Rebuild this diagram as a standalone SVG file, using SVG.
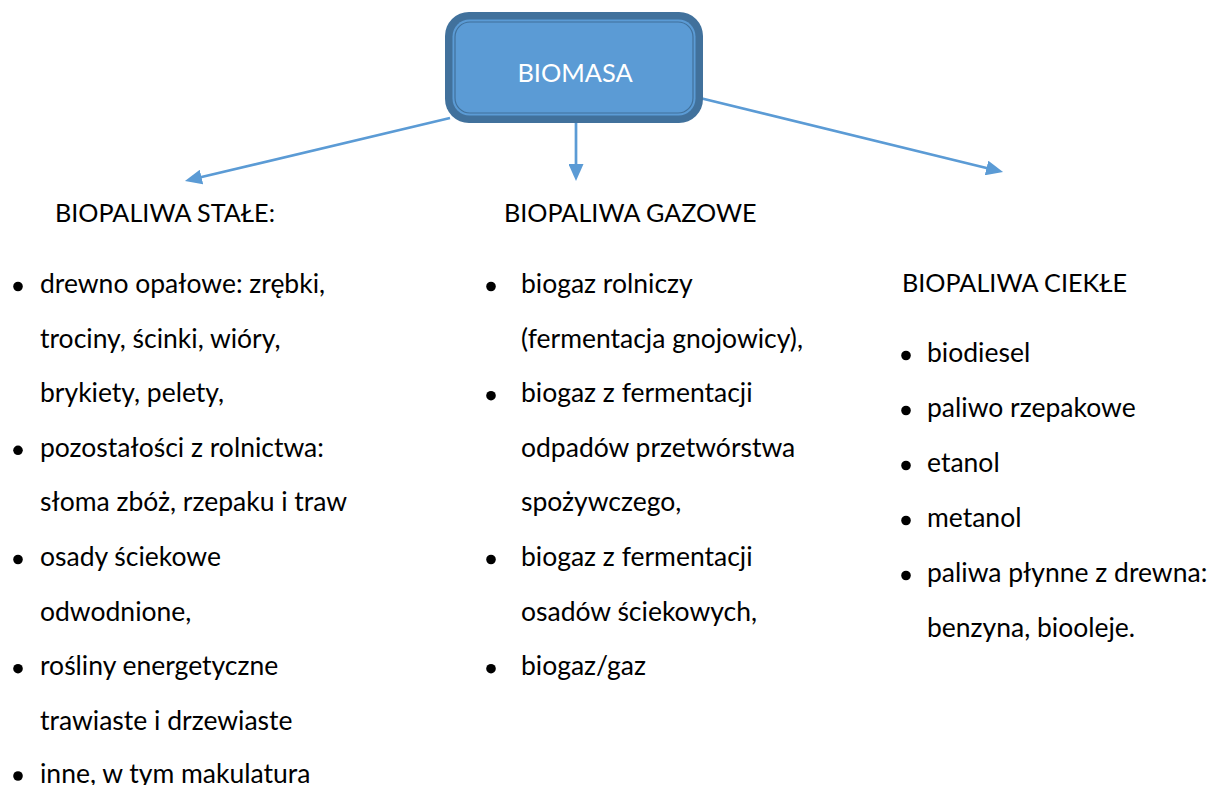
<svg xmlns="http://www.w3.org/2000/svg" width="1219" height="785" viewBox="0 0 1219 785">
<style>
  text { font-family: Lato, "Open Sans", "Liberation Sans", sans-serif; font-size: 26.5px; fill: #000; }
  .cap { font-size: 25.2px; }
  .title { fill: #fff; text-anchor: middle; font-size: 25.4px; }
  .conn { stroke: #5B9BD5; stroke-width: 2.7; fill: none; marker-end: url(#arrow); }
  .dot { fill: #000; }
</style>
<defs>
  <marker id="arrow" markerUnits="userSpaceOnUse" viewBox="0 0 17 15" refX="1" refY="7.5" markerWidth="17" markerHeight="15" orient="auto">
    <path d="M0,0 L17,7.5 L0,15 z" fill="#5B9BD5"/>
  </marker>
</defs>
<rect width="1219" height="785" fill="#fff"/>

<g id="connectors">
  <line class="conn" x1="450" y1="118" x2="200.5" y2="177.3"/>
  <line class="conn" x1="576" y1="123" x2="576" y2="165"/>
  <line class="conn" x1="700" y1="98" x2="987.5" y2="168.2"/>
</g>

<g id="biomasa">
  <rect x="445" y="12" width="258" height="111" rx="24" fill="#41719C"/>
  <rect x="452.5" y="19.5" width="243" height="96" rx="17" fill="#5B9BD5"/>
  <rect x="455" y="22" width="238" height="91" rx="15" fill="none" stroke="#41719C" stroke-width="1.2"/>
  <text class="title" x="575" y="82">BIOMASA</text>
</g>

<g id="stale">
  <text class="cap" x="55" y="222">BIOPALIWA STAŁE:</text>
  <circle class="dot" cx="18" cy="286.5" r="4.8"/>
  <text x="40" y="293">drewno opałowe: zrębki,</text>
  <text x="40" y="347.6">trociny, ścinki, wióry,</text>
  <text x="40" y="402.2">brykiety, pelety,</text>
  <circle class="dot" cx="18" cy="450.3" r="4.8"/>
  <text x="40" y="456.8">pozostałości z rolnictwa:</text>
  <text x="40" y="511.4">słoma zbóż, rzepaku i traw</text>
  <circle class="dot" cx="18" cy="559.5" r="4.8"/>
  <text x="40" y="566">osady ściekowe</text>
  <text x="40" y="620.6">odwodnione,</text>
  <circle class="dot" cx="18" cy="668.7" r="4.8"/>
  <text x="40" y="675.2">rośliny energetyczne</text>
  <text x="40" y="729.8">trawiaste i drzewiaste</text>
  <circle class="dot" cx="18" cy="776" r="4.8"/>
  <text x="40" y="782.5">inne, w tym makulatura</text>
</g>

<g id="gazowe">
  <text class="cap" x="504" y="222">BIOPALIWA GAZOWE</text>
  <circle class="dot" cx="491" cy="286.5" r="4.8"/>
  <text x="521" y="293">biogaz rolniczy</text>
  <text x="521" y="347.6">(fermentacja gnojowicy),</text>
  <circle class="dot" cx="491" cy="395.7" r="4.8"/>
  <text x="521" y="402.2">biogaz z fermentacji</text>
  <text x="521" y="456.8">odpadów przetwórstwa</text>
  <text x="521" y="511.4">spożywczego,</text>
  <circle class="dot" cx="491" cy="559.5" r="4.8"/>
  <text x="521" y="566">biogaz z fermentacji</text>
  <text x="521" y="620.6">osadów ściekowych,</text>
  <circle class="dot" cx="491" cy="668.7" r="4.8"/>
  <text x="521" y="675.2">biogaz/gaz</text>
</g>

<g id="ciekle">
  <text class="cap" x="902" y="292">BIOPALIWA CIEKŁE</text>
  <circle class="dot" cx="906" cy="355.5" r="4.8"/>
  <text x="927" y="362">biodiesel</text>
  <circle class="dot" cx="906" cy="410.5" r="4.8"/>
  <text x="927" y="417">paliwo rzepakowe</text>
  <circle class="dot" cx="906" cy="465.5" r="4.8"/>
  <text x="927" y="472">etanol</text>
  <circle class="dot" cx="906" cy="520.5" r="4.8"/>
  <text x="927" y="527">metanol</text>
  <circle class="dot" cx="906" cy="575.5" r="4.8"/>
  <text x="927" y="582">paliwa płynne z drewna:</text>
  <text x="927" y="637">benzyna, biooleje.</text>
</g>
</svg>
